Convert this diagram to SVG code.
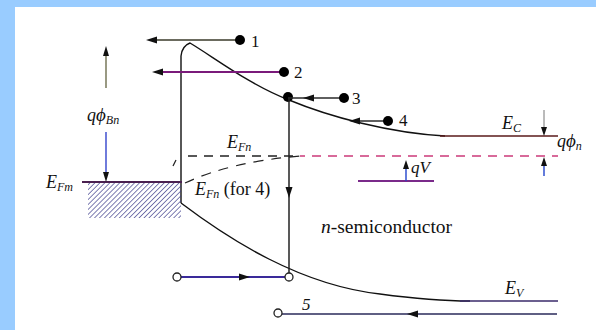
<svg xmlns="http://www.w3.org/2000/svg" width="596" height="330" viewBox="0 0 596 330">
<defs>
<pattern id="hatch" patternUnits="userSpaceOnUse" width="3.5" height="3.5" patternTransform="rotate(45)">
<line x1="0" y1="0" x2="0" y2="3.5" stroke="#3a3a8a" stroke-width="1.3"/>
</pattern>
</defs>
<style>
.ln{fill:none;stroke:#111;stroke-width:1.4}
.lb{font-family:'Liberation Serif','Times New Roman',Times,serif;fill:#111}
.i{font-style:italic}
.num{font-size:17px}
.dot{fill:#000}
.oc{fill:#fff;stroke:#222;stroke-width:1.3}
.ah{stroke:none}
</style>
<rect x="0" y="0" width="596" height="330" fill="#99ccff"/>
<rect x="15" y="7" width="581" height="323" fill="#ffffff"/>

<g id="bands">
<path class="ln" d="M181,203 L181,56 Q182,46 190,43 C215,58 250,85 289,100 C330,117 390,133 445,136"/>
<path d="M440,136 L558,136" fill="none" stroke="#5a1a1a" stroke-width="1.5"/>
<path class="ln" d="M181,203 C230,240 300,285 380,294 C410,298 440,301 470,301"/>
<path d="M460,301 L558,301" fill="none" stroke="#3a2a6a" stroke-width="1.5"/>
</g>

<g id="metal">
<rect x="88" y="183" width="93" height="35" fill="url(#hatch)"/>
<line x1="82" y1="182" x2="182" y2="182" stroke="#4a2050" stroke-width="1.8"/>
</g>

<g id="fermi">
<line x1="188" y1="156" x2="300" y2="156" stroke="#222" stroke-width="1.3" stroke-dasharray="9,7"/>
<line x1="300" y1="156" x2="558" y2="156" stroke="#cc3a7a" stroke-width="1.3" stroke-dasharray="9,7" stroke-dashoffset="4"/>
<path d="M185,183 Q230,162 300,156" fill="none" stroke="#222" stroke-width="1.2" stroke-dasharray="10,8"/>
<line x1="173" y1="166" x2="176" y2="160" stroke="#222" stroke-width="1.2"/>
</g>

<g id="connectors">
<line x1="150" y1="40" x2="240" y2="40" stroke="#3a3a2a" stroke-width="1.5"/>
<path class="ah" d="M146,40 L157,36.5 L157,43.5 Z" fill="#111"/>
<circle class="dot" cx="240" cy="40" r="5"/>
<line x1="156" y1="72" x2="284" y2="72" stroke="#7a1a7a" stroke-width="2"/>
<path class="ah" d="M152,72 L163,68.5 L163,75.5 Z" fill="#111"/>
<circle class="dot" cx="284" cy="72" r="5"/>
<circle class="dot" cx="288" cy="97" r="5"/>
<line x1="288" y1="98" x2="344" y2="98" stroke="#2a2a2a" stroke-width="1.5"/>
<path class="ah" d="M303,98 L314,94.5 L314,101.5 Z" fill="#111"/>
<circle class="dot" cx="344" cy="98" r="5"/>
<line x1="289" y1="97" x2="289" y2="273" stroke="#222" stroke-width="1.5"/>
<path class="ah" d="M289,198 L285.5,187 L292.5,187 Z" fill="#111"/>
<line x1="181" y1="277" x2="285" y2="277" stroke="#3a2a9a" stroke-width="2"/>
<path class="ah" d="M250,277 L239,273.5 L239,280.5 Z" fill="#111"/>
<circle class="oc" cx="177" cy="277" r="4"/>
<circle class="oc" cx="289" cy="277" r="4"/>
<line x1="353" y1="121" x2="388" y2="121" stroke="#2a2a2a" stroke-width="1.5"/>
<path class="ah" d="M349,121 L360,117.5 L360,124.5 Z" fill="#111"/>
<circle class="dot" cx="388" cy="121" r="5"/>
<line x1="282" y1="314" x2="557" y2="314" stroke="#2a2a5a" stroke-width="1.6"/>
<path class="ah" d="M407,314 L418,310.5 L418,317.5 Z" fill="#111"/>
<circle class="oc" cx="278" cy="313" r="4"/>
<line x1="106" y1="52" x2="106" y2="88" stroke="#555530" stroke-width="1.2"/>
<path class="ah" d="M106,46 L103,56 L109,56 Z" fill="#111"/>
<line x1="106" y1="132" x2="106" y2="176" stroke="#3344cc" stroke-width="1.4"/>
<path class="ah" d="M106,182 L103,172 L109,172 Z" fill="#111"/>
<line x1="358" y1="181" x2="434" y2="181" stroke="#7a2a8a" stroke-width="2"/>
<line x1="406" y1="181" x2="406" y2="166" stroke="#2244cc" stroke-width="1.4"/>
<path class="ah" d="M406,160 L403,169 L409,169 Z" fill="#111"/>
<line x1="544" y1="110" x2="544" y2="130" stroke="#777" stroke-width="1"/>
<path class="ah" d="M544,136 L541,127 L547,127 Z" fill="#111"/>
<line x1="544" y1="176" x2="544" y2="163" stroke="#2244cc" stroke-width="1.4"/>
<path class="ah" d="M544,157 L541,166 L547,166 Z" fill="#111"/>
</g>

<g id="labels">
<text class="lb num" x="251" y="47">1</text>
<text class="lb num" x="294" y="78">2</text>
<text class="lb num" x="352" y="104">3</text>
<text class="lb num" x="399" y="126">4</text>
<text class="lb num i" x="302" y="310">5</text>
<text class="lb i" x="87" y="121" font-size="18">q<tspan font-size="19">ϕ</tspan><tspan font-size="12" dy="3">Bn</tspan></text>
<text class="lb i" x="46" y="188" font-size="18">E<tspan font-size="12" dy="3">Fm</tspan></text>
<text class="lb i" x="227" y="148" font-size="18">E<tspan font-size="12" dy="3">Fn</tspan></text>
<text class="lb" x="195" y="195" font-size="18"><tspan class="i">E</tspan><tspan class="i" font-size="12" dy="3">Fn</tspan><tspan dy="-3"> (for 4)</tspan></text>
<text class="lb i" x="502" y="129" font-size="18">E<tspan font-size="12" dy="3">C</tspan></text>
<text class="lb i" x="505" y="294" font-size="18">E<tspan font-size="12" dy="3">V</tspan></text>
<text class="lb i" x="557" y="147" font-size="18">q<tspan font-size="19">ϕ</tspan><tspan font-size="12" dy="3">n</tspan></text>
<text class="lb i" x="411" y="173" font-size="17">qV</text>
<text class="lb" x="321" y="233" font-size="19.5"><tspan class="i">n</tspan>-semiconductor</text>
</g>
</svg>
